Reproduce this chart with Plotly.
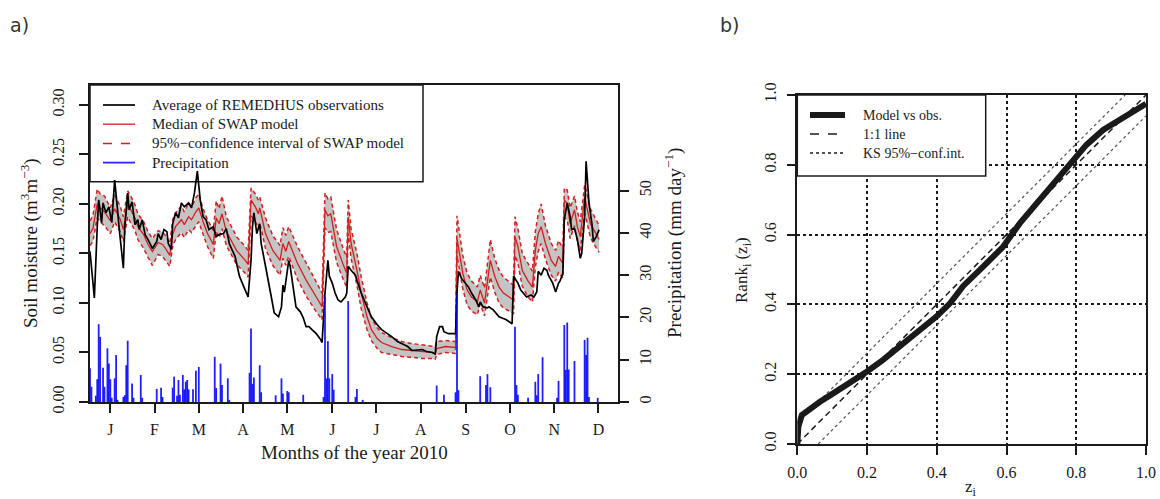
import plotly.graph_objects as go

# ---------------- a) daily soil moisture and precipitation, 2010 ----------------
# Average of the REMEDHUS stations (day of year, m3/m3)
obs_day = [1, 4, 6, 7, 9, 10, 12, 14, 16, 18,
           20, 21, 24, 25, 27, 28, 30, 32, 34, 35,
           37, 39, 41, 44, 47, 48, 50, 52, 54, 55,
           57, 58, 60, 62, 64, 66, 69, 71, 73, 75,
           77, 79, 81, 83, 86, 88, 90, 93, 95, 97,
           101, 104, 108, 110, 112, 113, 114, 116, 118, 119,
           122, 124, 126, 128, 131, 133, 134, 135, 137, 138,
           139, 141, 143, 146, 148, 150, 152, 154, 157, 160,
           161, 163, 165, 166, 168, 170, 172, 174, 177, 178,
           179, 181, 184, 185, 188, 192, 195, 199, 202, 206,
           209, 213, 216, 220, 223, 226, 230, 233, 237, 239,
           240, 242, 244, 245, 248, 251, 253, 254, 255, 257,
           260, 262, 264, 267, 269, 270, 272, 275, 276, 279,
           283, 285, 288, 290, 292, 293, 296, 298, 300, 302,
           305, 307, 309, 310, 312, 314, 316, 317, 320, 322,
           324, 325, 327, 328, 330, 332, 333, 335, 337, 339,
           340, 342, 343, 345, 347, 348, 350, 352]
obs_sm = [0.152, 0.105, 0.177, 0.204, 0.181, 0.201, 0.191, 0.197, 0.181, 0.224,
          0.194, 0.177, 0.135, 0.177, 0.211, 0.194, 0.202, 0.179, 0.184, 0.174,
          0.184, 0.169, 0.164, 0.155, 0.162, 0.170, 0.164, 0.174, 0.172, 0.160,
          0.154, 0.180, 0.191, 0.186, 0.201, 0.197, 0.201, 0.196, 0.211, 0.233,
          0.204, 0.187, 0.184, 0.174, 0.177, 0.167, 0.169, 0.170, 0.175, 0.160,
          0.147, 0.127, 0.113, 0.106, 0.143, 0.177, 0.191, 0.170, 0.180, 0.160,
          0.137, 0.123, 0.106, 0.090, 0.086, 0.096, 0.118, 0.111, 0.133, 0.143,
          0.137, 0.116, 0.096, 0.091, 0.085, 0.076, 0.076, 0.073, 0.069, 0.063,
          0.060, 0.110, 0.143, 0.127, 0.120, 0.110, 0.103, 0.101, 0.106, 0.110,
          0.137, 0.133, 0.128, 0.123, 0.110, 0.096, 0.086, 0.078, 0.073, 0.069,
          0.066, 0.061, 0.059, 0.056, 0.052, 0.0525, 0.053, 0.051, 0.050, 0.0485,
          0.066, 0.076, 0.076, 0.071, 0.069, 0.069, 0.069, 0.110, 0.132, 0.125,
          0.120, 0.116, 0.110, 0.103, 0.096, 0.101, 0.096, 0.095, 0.096, 0.093,
          0.086, 0.085, 0.083, 0.081, 0.079, 0.127, 0.120, 0.113, 0.110, 0.106,
          0.108, 0.106, 0.111, 0.132, 0.128, 0.135, 0.133, 0.128, 0.120, 0.111,
          0.120, 0.122, 0.130, 0.184, 0.201, 0.187, 0.174, 0.175, 0.164, 0.145,
          0.150, 0.187, 0.243, 0.201, 0.180, 0.162, 0.167, 0.174]

# SWAP model: median and 95% confidence bounds
swap_day = [1, 3, 6, 8, 11, 15, 18, 22, 24, 27,
            29, 32, 34, 38, 41, 44, 48, 51, 53, 56,
            58, 60, 64, 66, 69, 71, 74, 76, 79, 82,
            86, 88, 90, 92, 95, 102, 108, 110, 112, 115,
            117, 118, 122, 127, 132, 134, 136, 138, 144, 150,
            157, 161, 163, 165, 167, 171, 176, 178, 179, 181,
            185, 188, 192, 195, 199, 202, 209, 216, 223, 230,
            237, 239, 240, 246, 253, 254, 258, 261, 264, 268,
            270, 273, 277, 280, 283, 286, 291, 293, 294, 296,
            299, 303, 306, 308, 310, 312, 315, 319, 322, 324,
            327, 328, 330, 332, 335, 337, 339, 342, 343, 346,
            349, 352]
swap_median = [0.170, 0.175, 0.200, 0.196, 0.192, 0.183, 0.195, 0.184, 0.174, 0.200,
               0.194, 0.186, 0.177, 0.169, 0.159, 0.152, 0.161, 0.159, 0.155, 0.148,
               0.169, 0.177, 0.184, 0.179, 0.187, 0.184, 0.192, 0.196, 0.182, 0.170,
               0.159, 0.186, 0.180, 0.190, 0.172, 0.153, 0.143, 0.139, 0.204, 0.197,
               0.190, 0.196, 0.170, 0.153, 0.143, 0.160, 0.152, 0.162, 0.140, 0.123,
               0.106, 0.096, 0.194, 0.188, 0.190, 0.157, 0.137, 0.130, 0.187, 0.160,
               0.133, 0.110, 0.086, 0.073, 0.064, 0.060, 0.056, 0.053, 0.052, 0.051,
               0.050, 0.0485, 0.054, 0.056, 0.055, 0.165, 0.130, 0.113, 0.106, 0.101,
               0.113, 0.100, 0.143, 0.127, 0.116, 0.110, 0.105, 0.103, 0.167, 0.157,
               0.133, 0.122, 0.116, 0.153, 0.170, 0.177, 0.160, 0.143, 0.137, 0.147,
               0.140, 0.204, 0.200, 0.180, 0.194, 0.177, 0.167, 0.207, 0.200, 0.180,
               0.172, 0.164]
swap_upper = [0.183, 0.188, 0.215, 0.210, 0.208, 0.196, 0.209, 0.197, 0.187, 0.213,
              0.208, 0.199, 0.190, 0.182, 0.172, 0.165, 0.173, 0.171, 0.168, 0.160,
              0.184, 0.191, 0.198, 0.192, 0.201, 0.197, 0.206, 0.210, 0.195, 0.184,
              0.173, 0.203, 0.195, 0.208, 0.187, 0.167, 0.157, 0.153, 0.216, 0.210,
              0.204, 0.207, 0.186, 0.168, 0.158, 0.176, 0.168, 0.177, 0.157, 0.140,
              0.121, 0.110, 0.211, 0.205, 0.207, 0.174, 0.153, 0.146, 0.204, 0.175,
              0.150, 0.126, 0.100, 0.085, 0.075, 0.070, 0.065, 0.061, 0.059, 0.058,
              0.057, 0.056, 0.061, 0.062, 0.061, 0.188, 0.148, 0.130, 0.122, 0.116,
              0.128, 0.115, 0.164, 0.145, 0.133, 0.126, 0.120, 0.118, 0.187, 0.175,
              0.150, 0.139, 0.132, 0.172, 0.190, 0.200, 0.178, 0.160, 0.153, 0.163,
              0.155, 0.216, 0.214, 0.196, 0.208, 0.192, 0.182, 0.219, 0.214, 0.195,
              0.186, 0.178]
swap_lower = [0.158, 0.162, 0.186, 0.182, 0.178, 0.170, 0.182, 0.171, 0.162, 0.187,
              0.181, 0.173, 0.164, 0.155, 0.146, 0.138, 0.149, 0.147, 0.143, 0.137,
              0.157, 0.164, 0.171, 0.166, 0.174, 0.171, 0.178, 0.182, 0.169, 0.157,
              0.145, 0.172, 0.166, 0.175, 0.158, 0.139, 0.130, 0.126, 0.188, 0.182,
              0.176, 0.181, 0.155, 0.138, 0.128, 0.145, 0.138, 0.147, 0.124, 0.107,
              0.091, 0.083, 0.176, 0.171, 0.172, 0.141, 0.122, 0.116, 0.170, 0.145,
              0.118, 0.094, 0.073, 0.062, 0.054, 0.050, 0.048, 0.046, 0.045, 0.044,
              0.044, 0.043, 0.048, 0.050, 0.049, 0.148, 0.114, 0.098, 0.092, 0.088,
              0.099, 0.087, 0.126, 0.111, 0.100, 0.095, 0.091, 0.089, 0.148, 0.140,
              0.117, 0.106, 0.101, 0.136, 0.152, 0.160, 0.144, 0.128, 0.122, 0.131,
              0.125, 0.186, 0.184, 0.165, 0.178, 0.162, 0.153, 0.190, 0.185, 0.166,
              0.158, 0.151]

# Daily precipitation (mm/day); dry days omitted
rain_day = [1, 2, 5, 6, 7, 8, 10, 11, 13, 14,
            15, 16, 18, 19, 20, 24, 25, 26, 27, 30,
            31, 36, 37, 47, 50, 51, 58, 59, 61, 62,
            63, 65, 66, 67, 68, 69, 72, 74, 76, 87,
            88, 91, 92, 96, 97, 111, 112, 113, 114, 118,
            119, 129, 133, 134, 137, 138, 148, 162, 163, 164,
            165, 166, 168, 169, 179, 184, 185, 189, 240, 245,
            253, 254, 255, 270, 274, 275, 277, 294, 295, 296,
            303, 308, 309, 310, 313, 323, 324, 328, 329, 330,
            331, 335, 342, 343, 344, 345, 351]
rain_mm = [8.0, 3.6, 1.5, 5.4, 18.4, 15.4, 8.1, 3.6, 12.7, 9.1,
           5.4, 1.0, 5.6, 11.1, 0.5, 1.2, 1.6, 8.7, 14.5, 4.4,
           1.0, 6.4, 1.0, 3.1, 3.4, 1.2, 3.4, 6.0, 1.5, 5.2,
           1.7, 6.4, 3.0, 4.8, 5.2, 3.0, 3.0, 7.4, 8.3, 10.7,
           3.3, 9.1, 4.0, 5.6, 0.5, 6.9, 17.4, 4.3, 5.8, 8.7,
           2.3, 1.6, 5.6, 2.0, 2.6, 2.3, 1.7, 1.2, 24.9, 5.6,
           14.4, 5.6, 6.6, 2.9, 23.9, 1.2, 3.1, 0.5, 3.9, 1.7,
           2.3, 25.5, 2.8, 6.1, 4.0, 6.6, 3.5, 17.8, 4.0, 1.7,
           1.0, 4.8, 1.6, 6.6, 10.6, 1.0, 5.0, 18.2, 7.6, 18.8,
           7.7, 9.7, 14.7, 11.1, 15.2, 1.2, 1.0]

month_tick_day = [15, 45.5, 76, 106.5, 137, 168, 198.5, 229, 260, 290.5, 321, 351.5]
month_labels = ["J", "F", "M", "A", "M", "J", "J", "A", "S", "O", "N", "D"]
sm_ticks = [0.00, 0.05, 0.10, 0.15, 0.20, 0.25, 0.30]
rain_ticks = [0, 10, 20, 30, 40, 50]

# ---------------- b) rank plot of model vs observations ----------------
z_model = [0.0, 0.003, 0.013, 0.036, 0.065, 0.103, 0.151, 0.199, 0.246, 0.294,
           0.342, 0.399, 0.438, 0.476, 0.533, 0.590, 0.638, 0.686, 0.734, 0.781,
           0.829, 0.877, 0.915, 0.953, 0.991, 1.0]
rank_model = [0.0, 0.050, 0.083, 0.102, 0.121, 0.145, 0.174, 0.207, 0.241, 0.279,
              0.322, 0.365, 0.403, 0.453, 0.508, 0.565, 0.632, 0.690, 0.742, 0.804,
              0.857, 0.900, 0.924, 0.948, 0.971, 0.975]
one_to_one = [0.0, 1.0]
ks_up_x, ks_up_y = [0.0, 0.94], [0.06, 1.0]
ks_lo_x, ks_lo_y = [0.06, 1.0], [0.0, 0.94]
unit_ticks = [0.0, 0.2, 0.4, 0.6, 0.8, 1.0]

# ---------------- styling ----------------
W, H = 1160, 499
SERIF = "Liberation Serif, Times New Roman, serif"
SANS = "DejaVu Sans, Verdana, sans-serif"
INK = "#1a1a1a"
RED = "#d21f1f"
BAND = "#c4c4c4"
BLUE = "rgba(0,0,255,0.88)"
RED_DASH = "4px,3px"
KS_GREY = "#555555"


def fx(px):
    return px / W


def fy(py):
    return 1 - py / H


fig = go.Figure()

# confidence band fill
fig.add_trace(go.Scatter(x=swap_day, y=swap_upper, mode="lines", line=dict(width=0),
                         showlegend=False, hoverinfo="skip"))
fig.add_trace(go.Scatter(x=swap_day, y=swap_lower, mode="lines", line=dict(width=0),
                         fill="tonexty", fillcolor=BAND, showlegend=False, hoverinfo="skip"))
# confidence bounds
for bound in (swap_upper, swap_lower):
    fig.add_trace(go.Scatter(x=swap_day, y=bound, mode="lines", showlegend=False,
                             line=dict(color=RED, width=1.5, dash=RED_DASH)))
# model median
fig.add_trace(go.Scatter(x=swap_day, y=swap_median, mode="lines", showlegend=False,
                         line=dict(color=RED, width=1.3)))
# observations
fig.add_trace(go.Scatter(x=obs_day, y=obs_sm, mode="lines", showlegend=False,
                         line=dict(color="black", width=1.7)))

# precipitation as vertical spikes on the secondary axis
rx, ry = [], []
for d, p in zip(rain_day, rain_mm):
    rx += [d, d, None]
    ry += [0, p, None]
fig.add_trace(go.Scatter(x=rx, y=ry, yaxis="y2", mode="lines", showlegend=False,
                         line=dict(color=BLUE, width=1.8)))

# panel b traces
fig.add_trace(go.Scatter(x=ks_up_x, y=ks_up_y, xaxis="x2", yaxis="y3", mode="lines",
                         showlegend=False, line=dict(color=KS_GREY, width=1.2, dash="dot")))
fig.add_trace(go.Scatter(x=ks_lo_x, y=ks_lo_y, xaxis="x2", yaxis="y3", mode="lines",
                         showlegend=False, line=dict(color=KS_GREY, width=1.2, dash="dot")))
fig.add_trace(go.Scatter(x=one_to_one, y=one_to_one, xaxis="x2", yaxis="y3", mode="lines",
                         showlegend=False, line=dict(color=INK, width=1.5, dash="6px,4px")))
fig.add_trace(go.Scatter(x=z_model, y=rank_model, xaxis="x2", yaxis="y3", mode="lines",
                         showlegend=False, line=dict(color=INK, width=6)))

# ---------------- legend boxes (keys + labels) ----------------
legend_a = [
    ("Average of REMEDHUS observations", dict(color="black", width=1.7)),
    ("Median of SWAP model", dict(color=RED, width=1.3)),
    ("95%\u2212confidence interval of SWAP model", dict(color=RED, width=1.5, dash="dash")),
    ("Precipitation", dict(color="rgb(40,40,255)", width=1.8)),
]
legend_b = [
    ("Model vs obs.", dict(color=INK, width=6)),
    ("1:1 line", dict(color=INK, width=1.5, dash="dash")),
    ("KS 95%\u2212conf.int.", dict(color=INK, width=1.5, dash="dot")),
]

shapes = [
    dict(type="rect", xref="paper", yref="paper", x0=fx(90), x1=fx(423),
         y0=fy(181.7), y1=fy(85), line=dict(color=INK, width=1.5),
         fillcolor="white", layer="below"),
    dict(type="rect", xref="paper", yref="paper", x0=fx(797.3), x1=fx(985.7),
         y0=fy(176), y1=fy(95), line=dict(color=INK, width=1.5),
         fillcolor="white", layer="above"),
]
annotations = []
for i, (label, key) in enumerate(legend_a):
    yc = 105 + 19.2 * i
    shapes.append(dict(type="line", xref="paper", yref="paper", x0=fx(103), x1=fx(135),
                       y0=fy(yc), y1=fy(yc), line=key, layer="below"))
    annotations.append(dict(text=label, x=fx(150), y=fy(yc), xref="paper", yref="paper",
                            xanchor="left", yanchor="middle", showarrow=False,
                            font=dict(family=SERIF, size=15, color=INK)))
for i, (label, key) in enumerate(legend_b):
    yc = 115 + 19 * i
    shapes.append(dict(type="line", xref="paper", yref="paper", x0=fx(810), x1=fx(845),
                       y0=fy(yc), y1=fy(yc), line=key, layer="above"))
    annotations.append(dict(text=label, x=fx(861), y=fy(yc), xref="paper", yref="paper",
                            xanchor="left", yanchor="middle", showarrow=False,
                            font=dict(family=SERIF, size=14, color=INK)))


def note(text, x, y, size, family=SERIF, angle=0, color=INK, xanchor="center"):
    return dict(text=text, x=fx(x), y=fy(y), xref="paper", yref="paper", xanchor=xanchor,
                yanchor="middle", textangle=angle, showarrow=False,
                font=dict(family=family, size=size, color=color))


annotations += [
    note("a)", 8, 25, 19, family=SANS, color="#333333", xanchor="left"),
    note("b)", 718, 25, 19, family=SANS, color="#333333", xanchor="left"),
    note("Months of the year 2010", 354, 452, 19),
    note("Soil moisture (m<sup>3</sup>m<sup>\u22123</sup>)", 30, 243, 19, angle=-90),
    note("Precipitation (mm day<sup>\u22121</sup>)", 674, 243, 19, angle=-90),
    note("Rank<sub>i</sub> (z<sub>i</sub>)", 743, 270, 17, angle=-90),
    note("z<sub>i</sub>", 971, 488, 17),
]

axis_common = dict(showline=True, linecolor=INK, linewidth=1.5, ticks="outside",
                   ticklen=9, tickwidth=1.5, tickcolor=INK, zeroline=False,
                   automargin=False, tickfont=dict(family=SERIF, size=16, color=INK))

fig.update_layout(
    width=W, height=H,
    margin=dict(l=0, r=0, t=0, b=0),
    paper_bgcolor="white", plot_bgcolor="white",
    showlegend=False,
    xaxis=dict(domain=[fx(90), fx(618)], range=[1, 365], tickvals=month_tick_day,
               ticktext=month_labels, mirror=True, showgrid=False, anchor="y",
               ticklabelstandoff=3, **axis_common),
    yaxis=dict(domain=[fy(402), fy(85)], range=[0, 0.32], tickvals=sm_ticks,
               tickformat=".2f", tickangle=-90, mirror=True, showgrid=False, anchor="x",
               ticklabelstandoff=9, **axis_common),
    yaxis2=dict(overlaying="y", side="right", range=[0, 75], tickvals=rain_ticks,
                tickangle=-90, showgrid=False, anchor="x", ticklabelstandoff=3, **axis_common),
    xaxis2=dict(domain=[fx(797.3), fx(1146)], range=[0, 1], tickvals=unit_ticks,
                tickformat=".1f", mirror=True, showgrid=True, gridcolor=INK, griddash="dot",
                gridwidth=1.5, anchor="y3", ticklabelstandoff=4, **axis_common),
    yaxis3=dict(domain=[fy(444), fy(95)], range=[0, 1], tickvals=unit_ticks,
                tickformat=".1f", tickangle=-90, mirror=True, showgrid=True, gridcolor=INK,
                griddash="dot", gridwidth=1.5, anchor="x2", ticklabelstandoff=4, **axis_common),
    shapes=shapes,
    annotations=annotations,
)

fig.write_html("out.html")
